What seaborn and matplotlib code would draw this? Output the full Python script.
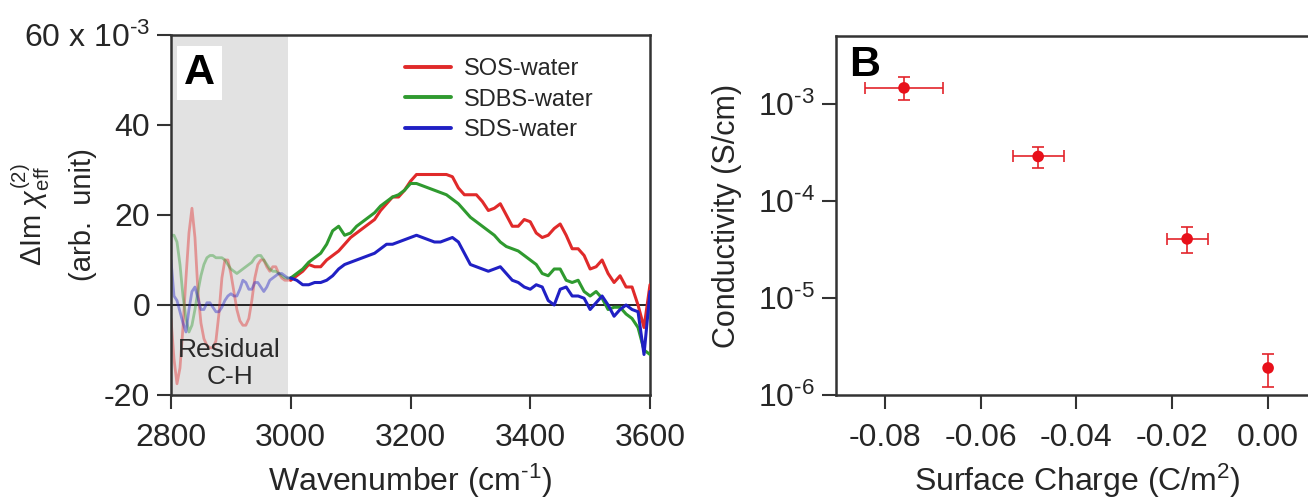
import numpy as np
import pandas as pd
import matplotlib
matplotlib.use("Agg")
import matplotlib.pyplot as plt
from matplotlib.ticker import FixedLocator, NullLocator
import seaborn as sns

# ---------------- data ----------------
# Panel A: wavenumber grid (finer sampling in the C-H region)
wavenumber = np.concatenate([np.arange(2800, 3000, 5), np.arange(3000, 3601, 10)])

sos_water = [
    # 2800-2995 (step 5)
    -3, -12, -17.5, -14, -5, 6, 16, 21.5, 15, 3,
    -4, -7.5, -9, -9.5, -9.5, -8, -2, 6, 10, 10,
    7, 3, -1, -3.5, -4.5, -4.5, -3, 1, 6, 9,
    10, 10, 8.5, 7.5, 8.5, 8.5, 7, 6, 5.5, 5.5,
    # 3000-3600 (step 10)
    5.5, 6.5, 7.5, 9, 8.5, 8.5, 10, 11, 12, 13.5,
    15, 16, 17, 18, 19, 21, 22.5, 24, 24, 25.5,
    27.5, 29, 29, 29, 29, 29, 29, 28.5, 26, 24.5,
    24.5, 24.5, 23, 21, 21.5, 22.5, 20, 17.5, 17.5, 19,
    18.5, 16, 15, 15.5, 17, 18, 15.5, 12.5, 12.5, 11,
    8, 8.5, 10, 7, 5, 6.5, 4, 4, 0, -5,
    4.5,
]
sdbs_water = [
    15.5, 15.5, 14, 9, 2, -3, -6, -4.5, -1, 3,
    6.5, 9, 10.5, 11, 11, 10.5, 10.5, 10.5, 10, 9,
    8, 7.5, 7, 7.5, 8, 8.5, 9, 9.5, 10.5, 11,
    11, 10, 9, 8, 7.5, 7.5, 7, 6.5, 6, 6,
    6, 7, 8, 9.5, 10.5, 11.5, 13.5, 16.5, 17.5, 15.5,
    16, 17.5, 18.5, 19.5, 20.5, 22, 23, 24, 24.5, 25.5,
    27, 27, 26.5, 26, 25.5, 25, 24.5, 23.5, 22.5, 21,
    19.5, 18.5, 17.5, 16.5, 15.5, 14, 13, 12.5, 12, 11,
    10, 9, 7, 6.5, 8, 8, 5.5, 5, 5.5, 3,
    2, 3, 1.5, -1, -0.5, -0.5, -2, -3, -5, -10,
    -11,
]
sds_water = [
    10, 2, 1, -1.5, -4, -6, -1, 3, 4, 1.5,
    -1, -1, 0.5, 0.5, -0.5, -1.5, -1.5, -0.5, 1, 2,
    2.5, 2, 2, 3.5, 5.5, 5, 3.5, 3.5, 5, 5,
    4, 3, 4, 5.5, 6, 6.5, 7, 7, 6.5, 6,
    6, 5.5, 4.5, 4.5, 5, 5, 5.5, 6.5, 8, 9,
    9.5, 10, 10.5, 11, 11.5, 12.5, 13.5, 13.5, 14, 14.5,
    15, 15.5, 15, 14.5, 14, 14, 14.5, 15, 14, 11.5,
    9, 8.5, 8, 7.5, 8, 8.5, 7, 5.5, 5, 4,
    3.5, 4.5, 4, 1, 0, 3.5, 4, 2, 2, 1.5,
    -1, 0.5, 2, 0, -2.5, -1, 0, -1, -1.5, -11,
    3,
]
series_names = ["SOS-water", "SDBS-water", "SDS-water"]
series_values = [sos_water, sdbs_water, sds_water]
series_colors = ["#e02a2a", "#2f9a2f", "#2020c4"]

ch_region = (2800, 2995)
a_yticks = [-20, 0, 20, 40, 60]
a_yticklabels = ["-20", "0", "20", "40", "60 x 10$^{\\text{-}3}$"]
a_xticks = [2800, 3000, 3200, 3400, 3600]

# Panel B: conductivity vs surface charge
surface_charge = [-0.076, -0.048, -0.0169, 0.0]
charge_err = [0.0082, 0.0053, 0.0043, 0.0]
conductivity = [1.46e-3, 2.87e-4, 4.06e-5, 1.9e-6]
cond_upper = [1.9e-3, 3.58e-4, 5.4e-5, 2.65e-6]
cond_lower = [1.1e-3, 2.18e-4, 2.9e-5, 1.21e-6]
b_xticks = [-0.08, -0.06, -0.04, -0.02, 0.00]
b_yticks = [1e-6, 1e-5, 1e-4, 1e-3]
b_yticklabels = ["10$^{\\text{-}6}$", "10$^{\\text{-}5}$", "10$^{\\text{-}4}$", "10$^{\\text{-}3}$"]

# ---------------- style ----------------
sns.set_theme(style="ticks")
plt.rcParams["font.family"] = ["Liberation Sans", "DejaVu Sans"]
plt.rcParams["mathtext.fontset"] = "custom"
plt.rcParams["mathtext.rm"] = "Liberation Sans"
plt.rcParams["mathtext.it"] = "Liberation Sans:italic"
plt.rcParams["mathtext.bf"] = "Liberation Sans:bold"
text_color = "#262626"
spine_color = "#333333"

fig = plt.figure(figsize=(13.08, 5.0), dpi=100)
W, H = 1308.0, 500.0
axA = fig.add_axes([171 / W, 105 / H, 479 / W, 360 / H])
axB = fig.add_axes([836 / W, 105 / H, 480 / W, 359 / H])


def style_axes(ax):
    for s in ax.spines.values():
        s.set_color(spine_color)
        s.set_linewidth(1.8)
    ax.tick_params(direction="out", length=10, width=1.5, color=spine_color,
                   labelsize=23, labelcolor=text_color, pad=5)
    ax.tick_params(axis="x", pad=10)


# ---------------- panel A ----------------
axA.axvspan(*ch_region, color="#e2e2e2", lw=0, zorder=0)
axA.axhline(0, color="#222222", lw=1.4, zorder=1)

long_rows = []
for name, vals in zip(series_names, series_values):
    for w, v in zip(wavenumber, vals):
        long_rows.append((name, w, v))
spec = pd.DataFrame(long_rows, columns=["sample", "wavenumber", "signal"])

for name, color in zip(series_names, series_colors):
    d = spec[spec["sample"] == name]
    faded = d[d["wavenumber"] <= 3000]
    solid = d[d["wavenumber"] >= 3000]
    sns.lineplot(data=faded, x="wavenumber", y="signal", ax=axA, color=color,
                 alpha=0.42, lw=2.0, estimator=None, sort=True, zorder=2)
    sns.lineplot(data=solid, x="wavenumber", y="signal", ax=axA, color=color,
                 lw=2.2, estimator=None, sort=True, label=name, zorder=3)

axA.set_xlim(2800, 3600)
axA.set_ylim(-20, 60)
axA.xaxis.set_major_locator(FixedLocator(a_xticks))
axA.yaxis.set_major_locator(FixedLocator(a_yticks))
axA.set_yticklabels(a_yticklabels)
style_axes(axA)

axA.set_xlabel("Wavenumber (cm$^{\\text{-}1}$)", fontsize=23, color=text_color)
axA.xaxis.set_label_coords(0.5, -0.185)
axA.set_ylabel("$\\Delta$Im $\\chi^{(2)}_{\\rm eff}$\n(arb.  unit)", fontsize=21,
               color=text_color, linespacing=1.75)
axA.yaxis.set_label_coords(-0.155, 0.5)

leg = axA.legend(loc="upper left", bbox_to_anchor=(0.488, 0.935), frameon=False,
                 fontsize=17, handlelength=1.95, handletextpad=0.55,
                 labelspacing=0.35, borderpad=0, borderaxespad=0)
for line in leg.get_lines():
    line.set_linewidth(2.8)
for t in leg.get_texts():
    t.set_color(text_color)

axA.text(0.059, 0.895, "A", transform=axA.transAxes, fontsize=31,
         fontweight="bold", color="black", ha="center", va="center",
         bbox=dict(facecolor="white", edgecolor="none", pad=5), zorder=5)
axA.text(2898, -13, "Residual\nC-H", fontsize=19, color="#2a2a2a",
         ha="center", va="center", linespacing=1.15, zorder=4)

# ---------------- panel B ----------------
cond = pd.DataFrame({"charge": surface_charge, "conductivity": conductivity})
y_lo = np.array(conductivity) - np.array(cond_lower)
y_hi = np.array(cond_upper) - np.array(conductivity)
axB.errorbar(surface_charge, conductivity, yerr=[y_lo, y_hi], fmt="none",
             ecolor="#e3242b", elinewidth=1.2, capsize=4.3, capthick=1.2, zorder=2)
has_xerr = np.array(charge_err) > 0
axB.errorbar(np.array(surface_charge)[has_xerr], np.array(conductivity)[has_xerr],
             xerr=np.array(charge_err)[has_xerr], fmt="none", ecolor="#e3242b",
             elinewidth=1.2, capsize=4.3, capthick=1.2, zorder=2)
sns.scatterplot(data=cond, x="charge", y="conductivity", ax=axB, color="#e8101a",
                s=70, edgecolor="none", zorder=3)

axB.set_yscale("log")
axB.set_xlim(-0.0902, 0.0100)
axB.set_ylim(1e-6, 5e-3)
axB.xaxis.set_major_locator(FixedLocator(b_xticks))
axB.set_xticklabels([f"{v:.2f}" for v in b_xticks])
axB.yaxis.set_major_locator(FixedLocator(b_yticks))
axB.set_yticklabels(b_yticklabels)
axB.yaxis.set_minor_locator(NullLocator())
style_axes(axB)

axB.set_xlabel("Surface Charge (C/m$^{2}$)", fontsize=23, color=text_color)
axB.xaxis.set_label_coords(0.502, -0.185)
axB.set_ylabel("Conductivity (S/cm)", fontsize=22, color=text_color)
axB.yaxis.set_label_coords(-0.195, 0.5)
axB.text(0.06, 0.92, "B", transform=axB.transAxes, fontsize=31,
         fontweight="bold", color="black", ha="center", va="center", zorder=5)

fig.savefig("out.png", dpi=100)
